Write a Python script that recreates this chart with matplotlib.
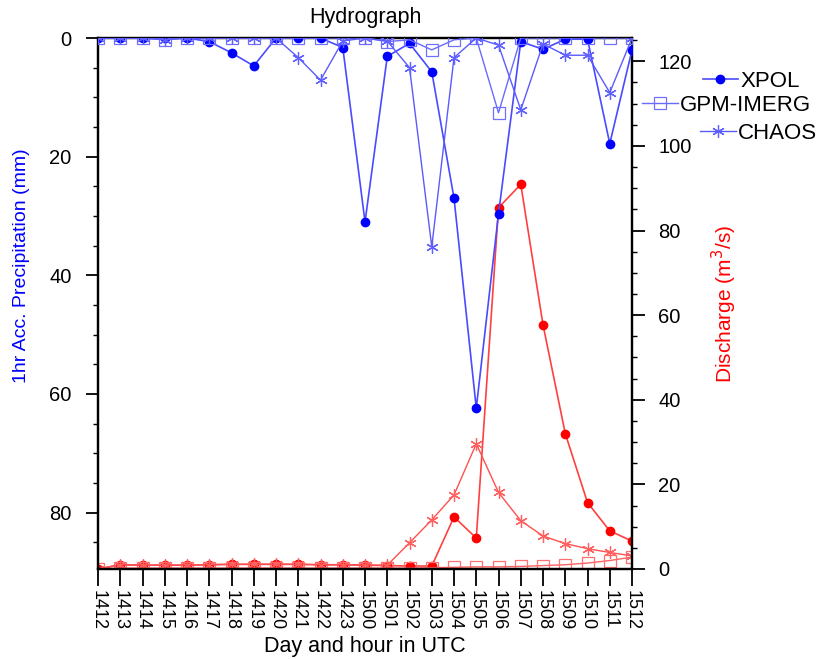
import numpy as np
import matplotlib.pyplot as plt
from matplotlib.ticker import MultipleLocator

plt.rcParams['font.family'] = ['Liberation Sans', 'DejaVu Sans']

hours = ['1412', '1413', '1414', '1415', '1416', '1417', '1418', '1419', '1420',
         '1421', '1422', '1423', '1500', '1501', '1502', '1503', '1504', '1505',
         '1506', '1507', '1508', '1509', '1510', '1511', '1512']

# precipitation (mm), left axis
xpol_p = [0, 0, 0, 0, 0, 0.6, 2.5, 4.7, 0, 0, 0, 1.6, 31.0, 3.1, 0.9, 5.7,
          27.0, 62.4, 29.6, 0.6, 1.9, 0.2, 0.2, 17.8, 2.0]
gpm_p = [0, 0, 0, 0.3, 0, 0, 0, 0, 0, 0, 0, 0, 0, 0.6, 0.3, 2.0,
         0.3, 0, 12.6, 0, 0, 0, 0, 0, 0]
chaos_p = [0, 0, 0, 0.3, 0, 0, 0, 0, 0, 3.3, 7.1, 0.5, 0, 0.5, 5.0, 35.2,
           3.3, 0, 1.2, 12.1, 1.0, 2.9, 2.9, 9.2, 0]

# discharge (m3/s), right axis
xpol_q = [0, 1.0, 0.9, 0.9, 0.9, 1.0, 1.1, 1.1, 1.1, 1.1, 1.0, 1.0, 0.9, 0.8,
          0.7, 0.7, 12.3, 7.3, 85.4, 90.9, 57.7, 32.0, 15.7, 9.0, 6.6]
gpm_q = [0, 0.2, 0.2, 0.2, 0.2, 0.2, 0.2, 0.2, 0.2, 0.2, 0.2, 0.2, 0.2, 0.2,
         0.2, 0.3, 0.4, 0.5, 0.5, 0.6, 0.8, 1.0, 1.4, 2.0, 2.8]
chaos_q = [0, 1.0, 0.9, 0.9, 0.9, 1.0, 1.1, 1.1, 1.1, 1.1, 1.0, 1.0, 0.9, 0.9,
           6.2, 11.6, 17.5, 29.6, 18.1, 11.4, 7.8, 6.0, 4.8, 3.9, 3.1]

x = np.arange(len(hours))
aster = (6, 2, 0)

fig = plt.figure(figsize=(8.19, 6.59), dpi=100)
ax = fig.add_axes([0.1197, 0.1366, 0.652, 0.8057])
ax2 = ax.twinx()

# discharge
ax2.plot(x, xpol_q, color='#ff4040', lw=1.2, marker='o', ms=6, mfc='red', mec='red')
ax2.plot(x, gpm_q, color='#ff6060', lw=1.0, marker='s', ms=8, mfc='none', mec='#ff7070', mew=0.9)
ax2.plot(x, chaos_q, color='#ff5050', lw=1.0, marker=aster, ms=9, mec='#ff6060', mew=0.9)

# precipitation
l1, = ax.plot(x, xpol_p, color='#4a4aff', lw=1.2, marker='o', ms=6, mfc='blue', mec='blue',
              label='XPOL', zorder=3)
l2, = ax.plot(x, gpm_p, color='#6a6aff', lw=1.0, marker='s', ms=8, mfc='none', mec='#7070ff',
              mew=0.9, label='GPM-IMERG', zorder=3)
l3, = ax.plot(x, chaos_p, color='#5a5aff', lw=1.0, marker=aster, ms=9, mec='#6060ff',
              mew=0.9, label='CHAOS', zorder=3)
ax.set_zorder(ax2.get_zorder() + 1)
ax.patch.set_visible(False)

ax.set_xlim(0, len(hours) - 1)
ax.set_ylim(89.5, 0)
ax2.set_ylim(0, 125.5)

ax.set_xticks(x)
ax.set_xticklabels(hours, rotation=270, fontsize=13)
ax.yaxis.set_major_locator(MultipleLocator(20))
ax.yaxis.set_minor_locator(MultipleLocator(5))
ax2.yaxis.set_major_locator(MultipleLocator(20))
ax2.yaxis.set_minor_locator(MultipleLocator(5))

ax.tick_params(axis='x', direction='out', length=12, width=1.3, pad=3)
ax.tick_params(axis='y', which='major', direction='out', length=9, width=1.3,
               labelsize=14.5, pad=10)
ax.tick_params(axis='y', which='minor', direction='out', length=3.5, width=1.0)
ax2.tick_params(axis='y', which='major', direction='out', length=9, width=1.3,
                labelsize=14.5, pad=10)
ax2.tick_params(axis='y', which='minor', direction='out', length=3.5, width=1.0)

for a in (ax, ax2):
    for s in a.spines.values():
        s.set_linewidth(1.6)

ax.set_xlabel('Day and hour in UTC', fontsize=15.5, va='top')
ax.xaxis.set_label_coords(0.5, -0.127)
ax.set_ylabel('1hr Acc. Precipitation (mm)', color='blue', fontsize=14)
ax.yaxis.set_label_coords(-0.128, 0.571)
ax2.set_ylabel('Discharge (m$^3$/s)', color='red', fontsize=15)
ax2.yaxis.set_label_coords(1.145, 0.5)
ax.set_title('Hydrograph', fontsize=15.5, pad=11)

# legend entries sit at slightly different x offsets in the original
for h, lx, ly in [(l1, 0.858, 0.876), (l2, 0.784, 0.840), (l3, 0.855, 0.798)]:
    fig.legend(handles=[h], loc='center left', bbox_to_anchor=(lx, ly),
               frameon=False, fontsize=16, handlelength=1.6, handletextpad=0.1,
               borderpad=0, borderaxespad=0)

fig.savefig('out.png', dpi=100)
